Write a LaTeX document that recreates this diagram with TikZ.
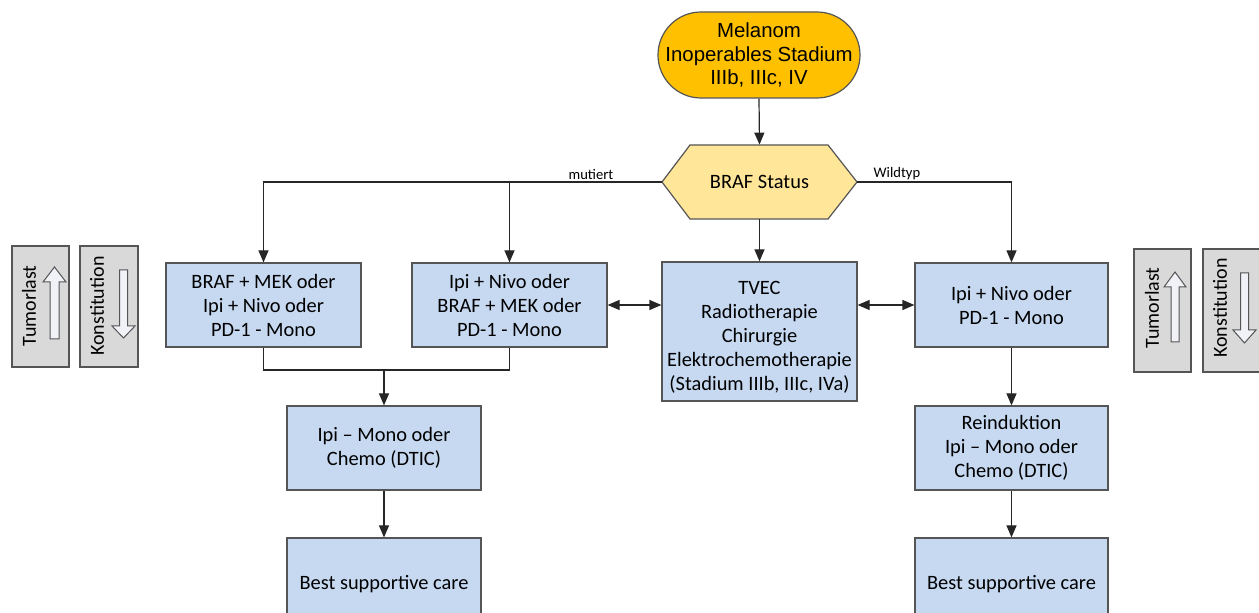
\documentclass[tikz,border=0pt]{standalone}
\usepackage{fontspec}
\setmainfont{Carlito}
\newfontfamily\arialf{Liberation Sans}
\usetikzlibrary{arrows.meta}
\definecolor{melor}{HTML}{FFC000}
\definecolor{hexy}{HTML}{FFE699}
\definecolor{boxb}{HTML}{C6D9F1}
\definecolor{boxg}{HTML}{D9D9D9}
\definecolor{arrf}{HTML}{F0F2F8}
\definecolor{edge}{HTML}{555555}
\begin{document}
\begin{tikzpicture}[x=0.5pt,y=-0.5pt,
  btext/.style={align=center,inner sep=0pt,font=\fontsize{10.2pt}{12pt}\selectfont},
  bluebox/.style={btext,draw=edge,line width=0.6pt,fill=boxb,
    minimum width=97.5pt,minimum height=42pt},
  conn/.style={draw=black!85,line width=0.6pt},
  arr/.style={conn,-{Triangle[length=6pt,width=5pt]}},
  darr/.style={conn,{Triangle[length=6pt,width=5pt]}-{Triangle[length=6pt,width=5pt]}},
  lab/.style={font=\fontsize{7.3pt}{8.5pt}\selectfont,inner sep=1pt,anchor=south},
  sidebox/.style={draw=edge,line width=0.6pt,fill=boxg},
  sidetext/.style={rotate=90,font=\fontsize{10pt}{12pt}\selectfont,inner sep=0pt},
  blockarr/.style={draw=edge,line width=0.5pt,fill=arrf}]
\useasboundingbox (0,0) rectangle (1259,613);
\clip (0,0) rectangle (1259,613);

% top terminal
\node[draw=edge,line width=0.6pt,fill=melor,rounded corners=21.5pt,minimum width=101pt,
  minimum height=43pt,align=center,inner sep=0pt,
  font=\arialf\fontsize{10.2pt}{11.75pt}\selectfont] (mel) at (759,55)
  {Melanom\\Inoperables Stadium\\IIIb, IIIc, IV};

% hexagon decision
\filldraw[draw=edge,line width=0.6pt,fill=hexy] (690,145) -- (828,145) -- (857,182) -- (828,219)
  -- (690,219) -- (662,182) -- cycle;
\node[minimum width=97.5pt,minimum height=37pt,inner sep=0pt,
  font=\fontsize{10.2pt}{12pt}\selectfont] (braf) at (759.5,182) {BRAF Status};

% boxes
\node[bluebox] (b1) at (263.5,305) {BRAF + MEK oder\\Ipi + Nivo oder\\PD-1 - Mono};
\node[bluebox] (b2) at (509.5,305) {Ipi + Nivo oder\\BRAF + MEK oder\\PD-1 - Mono};
\node[bluebox,minimum height=69.5pt] (tvec) at (759.5,331.5) {};
\node[btext] (tvect) at (759.5,337)
  {TVEC\\Radiotherapie\\Chirurgie\\Elektrochemotherapie\\(Stadium IIIb, IIIc, IVa)};
\node[bluebox,minimum width=96.5pt] (b4) at (1011.5,305) {Ipi + Nivo oder\\PD-1 - Mono};
\node[bluebox,minimum width=97pt] (b5) at (384,448) {Ipi -- Mono oder\\Chemo (DTIC)};
\node[bluebox,minimum width=97pt,minimum height=46pt] (b6) at (384,584) {Best supportive care};
\node[bluebox,minimum width=96.5pt] (b7) at (1011.5,448) {Reinduktion\\Ipi -- Mono oder\\Chemo (DTIC)};
\node[bluebox,minimum width=96.5pt,minimum height=46pt] (b8) at (1011.5,584) {Best supportive care};

% connectors
\draw[arr] (mel.south) -- (braf.north);
\draw[arr] (braf.west) -| (b1.north);
\draw[arr] (b2.north |- braf.west) -- (b2.north);
\draw[arr] (braf.east) -| (b4.north);
\draw[arr] (braf.south) -- (tvec.north);
\draw[darr] (b2.east) -- (b2.east -| tvec.west);
\draw[darr] (b4.west -| tvec.east) -- (b4.west);
\coordinate (j) at (384,370);
\draw[conn] (b1.south) |- (j) -| (b2.south);
\draw[arr] (j) -- (b5.north);
\draw[arr] (b5.south) -- (b6.north);
\draw[arr] (b4.south) -- (b7.north);
\draw[arr] (b7.south) -- (b8.north);

\node[lab] (mut) at (591,182) {mutiert};
\node[lab] (wild) at (897,182) {Wildtyp};

% left side indicators
\filldraw[sidebox] (12,246) rectangle (69,367);
\filldraw[sidebox] (80,246) rectangle (138,367);
\node[sidetext] (tl) at (29,306) {Tumorlast};
\node[sidetext] (kl) at (97,306) {Konstitution};
\filldraw[blockarr] (54.5,267) -- (66,282) -- (59,282) -- (59,339) -- (50,339) -- (50,282) -- (43,282) -- cycle;
\filldraw[blockarr] (123.5,338) -- (135,326) -- (127.5,326) -- (127.5,270) -- (119.5,270) -- (119.5,326) -- (112,326) -- cycle;

% right side indicators
\filldraw[sidebox] (1134,249) rectangle (1191,372);
\filldraw[sidebox] (1203,249) rectangle (1262,372);
\node[sidetext] (tr) at (1152,308) {Tumorlast};
\node[sidetext] (kr) at (1220,308) {Konstitution};
\filldraw[blockarr] (1175,272) -- (1186,287) -- (1179,287) -- (1179,342) -- (1171,342) -- (1171,287) -- (1164,287) -- cycle;
\filldraw[blockarr] (1244.5,343) -- (1256,330) -- (1248.5,330) -- (1248.5,273) -- (1240.5,273) -- (1240.5,330) -- (1233,330) -- cycle;
\end{tikzpicture}
\end{document}
